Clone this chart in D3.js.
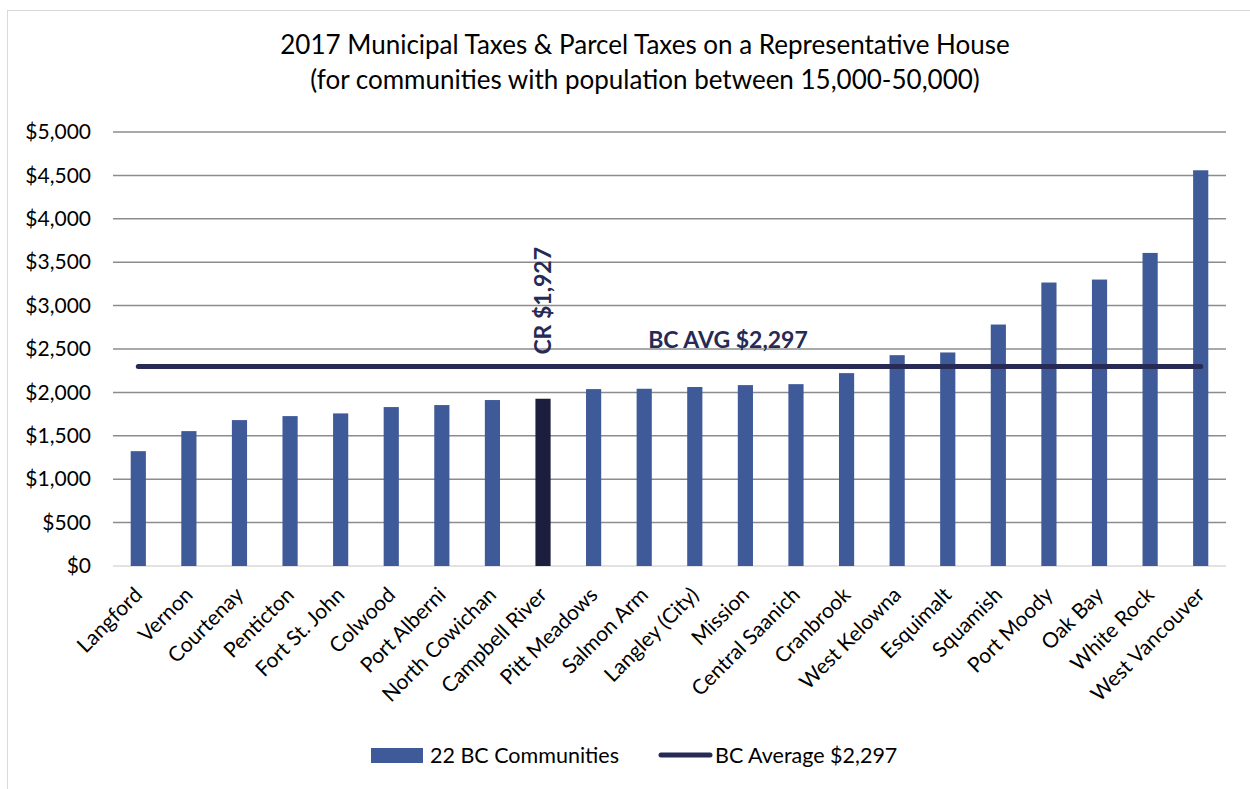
<!DOCTYPE html>
<html>
<head>
<meta charset="utf-8">
<script src="https://cdn.jsdelivr.net/npm/d3@7"></script>
<style>
  body { margin: 0; background: #fff; }
  text { font-family: Lato, "Open Sans", sans-serif; fill: #000; }
</style>
</head>
<body>
<script>
var communities = ["Langford", "Vernon", "Courtenay", "Penticton", "Fort St. John", "Colwood",
  "Port Alberni", "North Cowichan", "Campbell River", "Pitt Meadows", "Salmon Arm",
  "Langley (City)", "Mission", "Central Saanich", "Cranbrook", "West Kelowna", "Esquimalt",
  "Squamish", "Port Moody", "Oak Bay", "White Rock", "West Vancouver"];

var taxes = [1323, 1554, 1681, 1727, 1758, 1831, 1854, 1912, 1927, 2038, 2042,
  2062, 2084, 2095, 2222, 2429, 2460, 2782, 3266, 3300, 3607, 4559];

var bcAverage = 2297;
var highlight = "Campbell River";
var yTicks = [0, 500, 1000, 1500, 2000, 2500, 3000, 3500, 4000, 4500, 5000];

var w = 1250, h = 789;
var margin = { top: 132, right: 24, bottom: 223, left: 113 },
  width = w - margin.left - margin.right,
  height = h - margin.top - margin.bottom;

var svg = d3.select("body").append("svg")
  .attr("width", w)
  .attr("height", h);

// outer chart border
svg.append("rect")
  .attr("x", 7.5)
  .attr("y", 10.5)
  .attr("width", 1250)
  .attr("height", 800)
  .attr("fill", "none")
  .attr("stroke", "#d9d9d9");

svg.append("text")
  .attr("x", 645)
  .attr("y", 54)
  .attr("text-anchor", "middle")
  .style("font-size", "26px")
  .text("2017 Municipal Taxes & Parcel Taxes on a Representative House");

svg.append("text")
  .attr("x", 645)
  .attr("y", 89)
  .attr("text-anchor", "middle")
  .style("font-size", "26px")
  .text("(for communities with population between 15,000-50,000)");

var x = d3.scaleBand()
  .domain(communities)
  .range([0, width])
  .paddingInner(0.7)
  .paddingOuter(0.35);

var y = d3.scaleLinear()
  .domain([0, 5000])
  .range([height, 0]);

var g = svg.append("g")
  .attr("transform", "translate(" + margin.left + "," + margin.top + ")");

// gridlines
g.append("g")
  .attr("class", "grid")
  .selectAll("line")
  .data(yTicks.filter(function (d) { return d > 0; }))
  .enter().append("line")
  .attr("x1", 0)
  .attr("x2", width)
  .attr("y1", function (d) { return y(d); })
  .attr("y2", function (d) { return y(d); })
  .attr("stroke", "#8c8c8c")
  .attr("stroke-width", 1.5);

var yAxis = d3.axisLeft(y)
  .tickValues(yTicks)
  .tickSize(0)
  .tickPadding(22)
  .tickFormat(function (d) { return "$" + d3.format(",")(d); });

g.append("g")
  .attr("class", "y axis")
  .call(yAxis)
  .call(function (s) { s.select(".domain").remove(); })
  .selectAll("text")
  .style("font-size", "21px")
  .style("font-family", "Lato, sans-serif")
  .attr("fill", "#000");

// baseline
g.append("line")
  .attr("x1", 0)
  .attr("x2", width)
  .attr("y1", y(0))
  .attr("y2", y(0))
  .attr("stroke", "#d9d9d9")
  .attr("stroke-width", 1.5);

g.append("g")
  .attr("class", "bars")
  .selectAll("rect")
  .data(communities)
  .enter().append("rect")
  .attr("x", function (d) { return x(d); })
  .attr("width", x.bandwidth())
  .attr("y", function (d, i) { return y(taxes[i]); })
  .attr("height", function (d, i) { return y(0) - y(taxes[i]); })
  .attr("fill", function (d) { return d === highlight ? "#1c1e3e" : "#3f5a98"; });

// x labels
var xAxis = d3.axisBottom(x).tickSize(0).tickPadding(0);
g.append("g")
  .attr("class", "x axis")
  .attr("transform", "translate(0," + height + ")")
  .call(xAxis)
  .call(function (s) { s.select(".domain").remove(); })
  .selectAll("text")
  .style("font-size", "21px")
  .style("font-family", "Lato, sans-serif")
  .attr("fill", "#000")
  .attr("text-anchor", "end")
  .attr("dy", "0.35em")
  .attr("transform", "translate(0,25) rotate(-45)");

// BC average line
var cx = function (d) { return x(d) + x.bandwidth() / 2; };
g.append("line")
  .attr("x1", cx(communities[0]))
  .attr("x2", cx(communities[communities.length - 1]))
  .attr("y1", y(bcAverage))
  .attr("y2", y(bcAverage))
  .attr("stroke", "#262a55")
  .attr("stroke-width", 5)
  .attr("stroke-linecap", "round");

g.append("text")
  .attr("x", 728 - margin.left)
  .attr("y", y(bcAverage) - 19)
  .attr("text-anchor", "middle")
  .style("font-size", "23px")
  .style("font-weight", "bold")
  .style("fill", "#262a55")
  .text("BC AVG $" + d3.format(",")(bcAverage));

var crIndex = communities.indexOf(highlight);
g.append("text")
  .attr("transform", "translate(" + (cx(highlight) + 8) + "," + (y(bcAverage) - 12) + ") rotate(-90)")
  .attr("text-anchor", "start")
  .style("font-size", "23px")
  .style("font-weight", "bold")
  .style("fill", "#262a55")
  .text("CR $" + d3.format(",")(taxes[crIndex]));

// legend
var legend = svg.append("g").attr("class", "legend");
legend.append("rect")
  .attr("x", 371)
  .attr("y", 748)
  .attr("width", 52)
  .attr("height", 15)
  .attr("fill", "#3f5a98");
legend.append("text")
  .attr("x", 430)
  .attr("y", 763)
  .style("font-size", "21.5px")
  .text("22 BC Communities");
legend.append("line")
  .attr("x1", 661)
  .attr("x2", 710)
  .attr("y1", 755)
  .attr("y2", 755)
  .attr("stroke", "#262a55")
  .attr("stroke-width", 5)
  .attr("stroke-linecap", "round");
legend.append("text")
  .attr("x", 715)
  .attr("y", 763)
  .style("font-size", "21.5px")
  .text("BC Average $" + d3.format(",")(bcAverage));
</script>
</body>
</html>
